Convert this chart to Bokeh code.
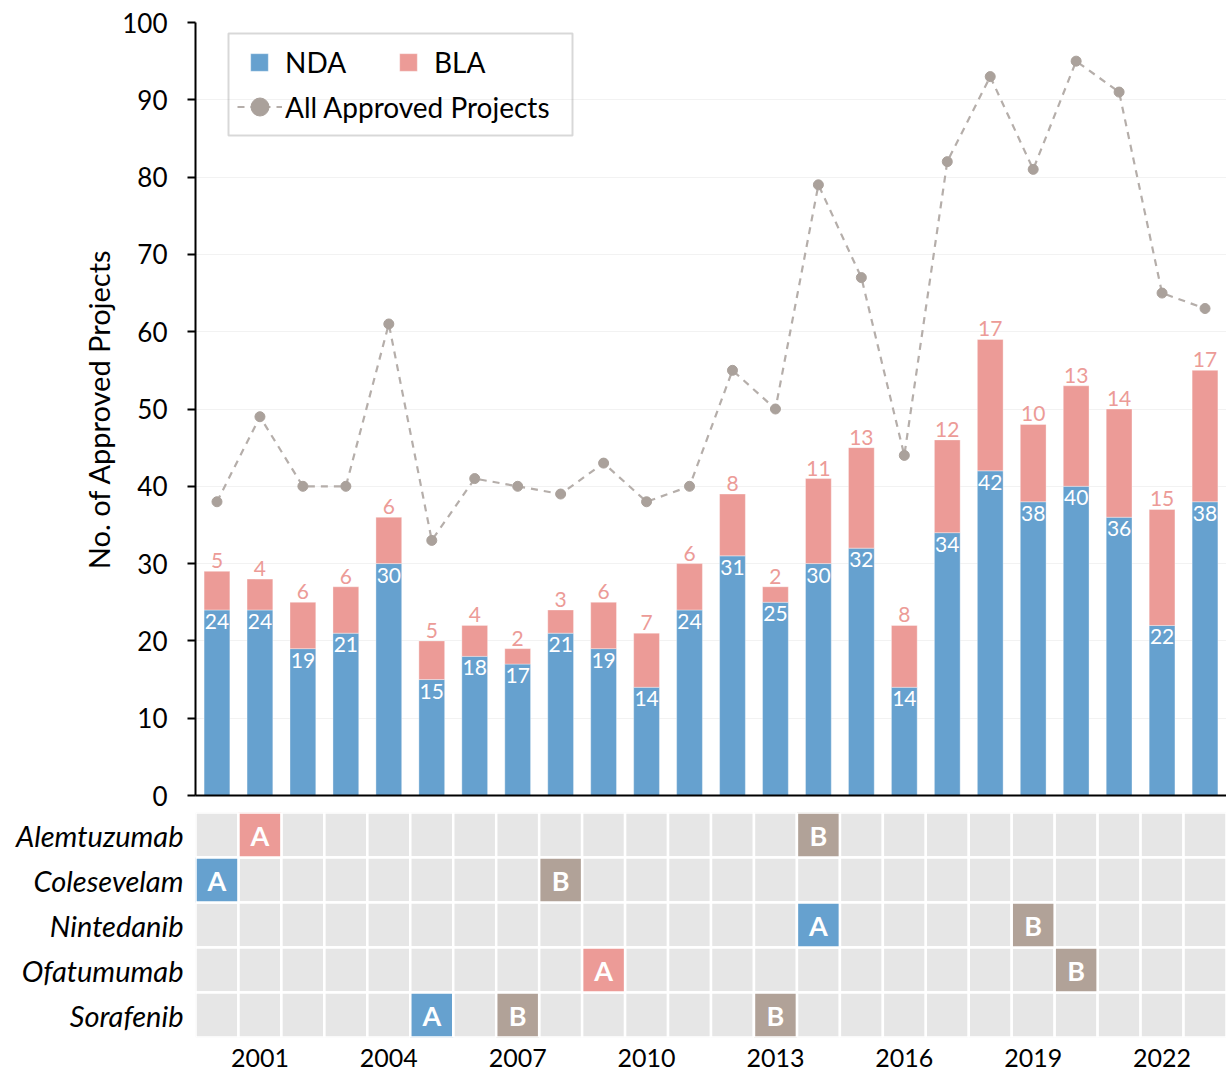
from bokeh.plotting import figure
from bokeh.models import (Range1d, FactorRange, Legend, LegendItem, BoxAnnotation,
                          FixedTicker, ColumnDataSource)
from bokeh.layouts import column
from bokeh.core.properties import value
from bokeh.embed import file_html
from bokeh.resources import INLINE

# ---------------- data ----------------
years = list(range(2000, 2024))
nda = [24, 24, 19, 21, 30, 15, 18, 17, 21, 19, 14, 24, 31, 25, 30, 32, 14, 34, 42, 38, 40, 36, 22, 38]
bla = [5, 4, 6, 6, 6, 5, 4, 2, 3, 6, 7, 6, 8, 2, 11, 13, 8, 12, 17, 10, 13, 14, 15, 17]
all_approved = [38, 49, 40, 40, 61, 33, 41, 40, 39, 43, 38, 40, 55, 50, 79, 67, 44, 82, 93, 81, 95, 91, 65, 63]

drugs = ["Alemtuzumab", "Colesevelam", "Nintedanib", "Ofatumumab", "Sorafenib"]
event_drug = ["Alemtuzumab", "Alemtuzumab", "Colesevelam", "Colesevelam", "Nintedanib",
              "Nintedanib", "Ofatumumab", "Ofatumumab", "Sorafenib", "Sorafenib", "Sorafenib"]
event_year = [2001, 2014, 2000, 2008, 2014, 2019, 2009, 2020, 2005, 2007, 2013]
event_label = ["A", "B", "A", "B", "A", "B", "A", "B", "A", "B", "B"]
event_kind = ["BLA", "B", "NDA", "B", "NDA", "B", "BLA", "B", "NDA", "B", "B"]

x_tick_years = [2001, 2004, 2007, 2010, 2013, 2016, 2019, 2022]
y_ticks = [0, 10, 20, 30, 40, 50, 60, 70, 80, 90, 100]

# ---------------- style ----------------
FONT = "Lato"
BLUE = "#66a1cf"
PINK = "#ec9b97"
TAUPE = "#b1a298"
LINE_GRAY = "#b5aeaa"
MARK_GRAY = "#aaa19b"
CELL_GRAY = "#e6e6e6"
kind_color = {"NDA": BLUE, "BLA": PINK, "B": TAUPE}

W = 1226
FRAME_LEFT = 195

# ---------------- top chart ----------------
totals = [a + b for a, b in zip(nda, bla)]
src = ColumnDataSource(dict(year=years, nda=nda, bla=bla, total=totals,
                            nda_txt=[str(v) for v in nda], bla_txt=[str(v) for v in bla],
                            allp=all_approved))

p = figure(width=W, height=812, x_range=Range1d(1999.5, 2023.5), y_range=Range1d(0, 100),
           output_backend="svg", toolbar_location=None,
           min_border_left=FRAME_LEFT, min_border_right=0, min_border_top=22, min_border_bottom=17)
p.outline_line_color = None
p.xgrid.visible = False
p.ygrid.grid_line_color = "#f2f2f2"
p.ygrid.grid_line_width = 1

bars = p.vbar_stack(["nda", "bla"], x="year", width=0.6, color=[BLUE, PINK],
                    line_color="white", line_alpha=0.35, line_width=1, source=src)

ln = p.line("year", "allp", source=src, line_color=LINE_GRAY, line_width=2.2, line_dash="7 6")
sc = p.scatter("year", "allp", source=src, size=10, fill_color=MARK_GRAY, line_color=MARK_GRAY)

p.text(x="year", y="nda", text="nda_txt", source=src, text_align="center", text_baseline="top",
       y_offset=4, text_color="white", text_font=value(FONT), text_font_size="21px")
p.text(x="year", y="total", text="bla_txt", source=src, text_align="center", text_baseline="bottom",
       y_offset=-3, text_color=PINK, text_font=value(FONT), text_font_size="21px")

p.yaxis.ticker = FixedTicker(ticks=y_ticks)
p.yaxis.major_tick_out = 8
p.yaxis.major_tick_in = 0
p.yaxis.minor_tick_line_color = None
p.yaxis.axis_line_width = 2
p.yaxis.axis_line_color = "black"
p.yaxis.major_tick_line_width = 2
p.yaxis.major_label_text_font = FONT
p.yaxis.major_label_text_font_size = "26px"
p.yaxis.major_label_text_color = "black"
p.yaxis.major_label_standoff = 20
p.yaxis.axis_label = "No. of Approved Projects"
p.yaxis.axis_label_text_font = FONT
p.yaxis.axis_label_text_font_size = "29px"
p.yaxis.axis_label_text_font_style = "normal"
p.yaxis.axis_label_text_color = "black"
p.yaxis.axis_label_standoff = 3

p.xaxis.ticker = FixedTicker(ticks=[])
p.xaxis.major_tick_line_color = None
p.xaxis.minor_tick_line_color = None
p.xaxis.axis_line_width = 2
p.xaxis.axis_line_color = "black"

leg1 = Legend(items=[LegendItem(label="NDA", renderers=[bars[0]]),
                     LegendItem(label="BLA", renderers=[bars[1]])],
              orientation="horizontal", location=(53, 716), padding=0, margin=0, spacing=0,
              glyph_width=22, glyph_height=22, label_standoff=15, label_width=112,
              label_text_font=FONT, label_text_font_size="28px", label_text_color="black",
              border_line_color=None, background_fill_alpha=0)
leg2 = Legend(items=[LegendItem(label="All Approved Projects", renderers=[ln, sc])],
              location=(42, 666), padding=0, margin=0, spacing=0,
              glyph_width=45, glyph_height=45, label_standoff=3,
              label_text_font=FONT, label_text_font_size="28px", label_text_color="black",
              border_line_color=None, background_fill_alpha=0)
p.add_layout(leg1)
p.add_layout(leg2)
p.add_layout(BoxAnnotation(left=33, right=377, top=762, bottom=660,
                           left_units="screen", right_units="screen",
                           top_units="screen", bottom_units="screen",
                           fill_alpha=0, line_color="#7f7f7f", line_width=2))

# ---------------- timeline heatmap ----------------
cell_x = [y for d in drugs for y in years]
cell_y = [d for d in drugs for y in years]

h = figure(width=W, height=265, x_range=p.x_range, y_range=FactorRange(*reversed(drugs)),
           output_backend="svg", toolbar_location=None,
           min_border_left=FRAME_LEFT, min_border_right=0, min_border_top=0, min_border_bottom=40)
h.outline_line_color = None
h.grid.visible = False

h.rect(x=cell_x, y=cell_y, width=1, height=1, fill_color=CELL_GRAY, line_color="white", line_width=2.5)
ev_src = ColumnDataSource(dict(x=event_year, y=event_drug, t=event_label,
                               c=[kind_color[k] for k in event_kind]))
h.rect(x="x", y="y", width=1, height=1, fill_color="c", line_color="white", line_width=2.5, source=ev_src)
h.text(x="x", y="y", text="t", source=ev_src, text_align="center", text_baseline="middle",
       text_color="white", text_font=value(FONT), text_font_style="bold", text_font_size="27px")

h.xaxis.ticker = FixedTicker(ticks=x_tick_years)
h.xaxis.major_tick_line_color = None
h.xaxis.minor_tick_line_color = None
h.xaxis.axis_line_color = None
h.xaxis.major_label_text_font = FONT
h.xaxis.major_label_text_font_size = "25px"
h.xaxis.major_label_text_color = "black"
h.xaxis.major_label_standoff = 5

h.yaxis.major_tick_line_color = None
h.yaxis.minor_tick_line_color = None
h.yaxis.axis_line_color = None
h.yaxis.major_label_text_font = FONT
h.yaxis.major_label_text_font_size = "29px"
h.yaxis.major_label_text_font_style = "italic"
h.yaxis.major_label_text_color = "black"
h.yaxis.major_label_standoff = 6

layout = column(p, h, spacing=0)
open("out.html", "w").write(file_html(layout, INLINE))
